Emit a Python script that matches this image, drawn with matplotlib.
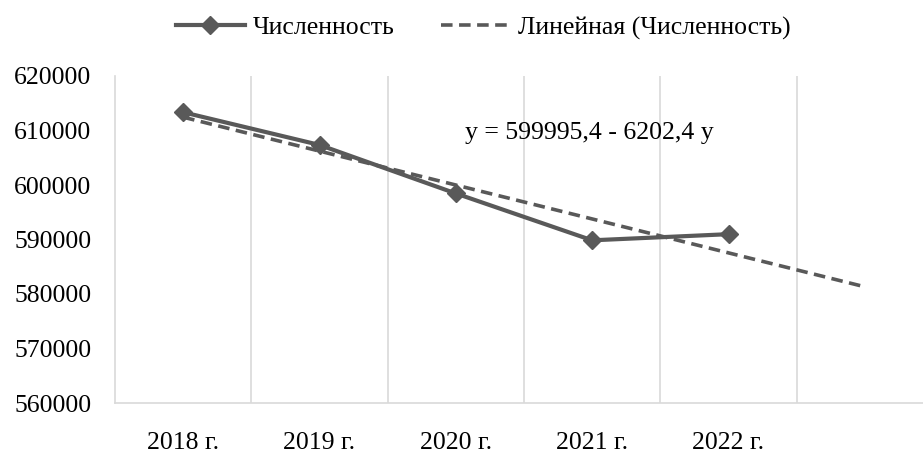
import matplotlib.pyplot as plt
import numpy as np

plt.rcParams["font.family"] = ["Liberation Serif", "DejaVu Serif"]

# data
years = ["2018 г.", "2019 г.", "2020 г.", "2021 г.", "2022 г."]
population = [613350, 607350, 598450, 589850, 590977]
equation_text = "y = 599995,4 - 6202,4 y"
forecast_periods = 1

line_color = "#595959"
grid_color = "#d9d9d9"
fs = 18.5

fig = plt.figure(figsize=(9.23, 4.5), dpi=100)
W, H = 923, 450
left, right, top, bottom = 115, 933, 76, 403
ax = fig.add_axes([left / W, 1 - bottom / H, (right - left) / W, (bottom - top) / H])

x = np.arange(len(years))
ax.plot(x, population, color=line_color, lw=3, marker="D", ms=9,
        label="Численность", zorder=3)

# linear trend with one period forecast
coef = np.polyfit(x, population, 1)
xt = np.arange(len(years) + forecast_periods)
ax.plot(xt, np.polyval(coef, xt), color=line_color, lw=2.6, ls=(0, (3.2, 1.8)),
        label="Линейная (Численность)", zorder=2)

ax.text(2.07, 609600, equation_text, fontsize=fs, va="center", ha="left")

ax.set_xlim(-0.5, len(years) + forecast_periods - 0.5)
ax.set_ylim(560000, 620000)
ax.set_yticks(np.arange(560000, 620001, 10000))
ax.set_yticklabels([str(v) for v in range(560000, 620001, 10000)], fontsize=fs)
ax.set_xticks(x)
ax.set_xticklabels(years, fontsize=fs)
ax.tick_params(axis="both", length=0)
ax.tick_params(axis="x", pad=21)
ax.tick_params(axis="y", pad=17)

for b in np.arange(0.5, len(years) + forecast_periods - 0.5, 1):
    ax.axvline(b, color=grid_color, lw=1.2, zorder=0)

for s in ["top", "right"]:
    ax.spines[s].set_visible(False)
for s in ["left", "bottom"]:
    ax.spines[s].set_color(grid_color)
    ax.spines[s].set_linewidth(1.2)

fig.legend(loc="center", bbox_to_anchor=(483 / W, 1 - 28 / H), ncol=2, frameon=False,
           fontsize=fs, handlelength=2.7, columnspacing=1.8, handletextpad=0.3)

fig.savefig("out.png", dpi=100)
